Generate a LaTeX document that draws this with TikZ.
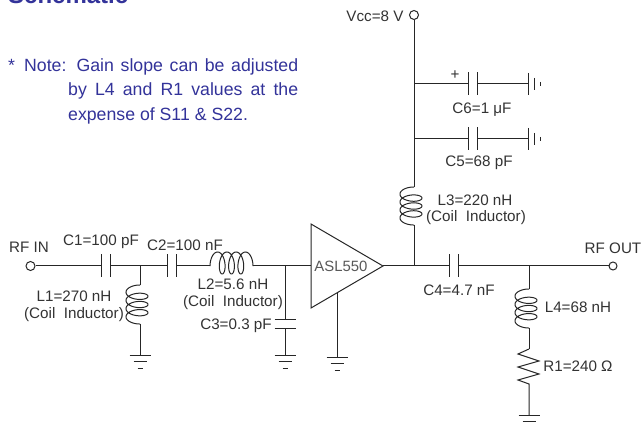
\documentclass[tikz,border=0pt]{standalone}
\usepackage{fontspec}
\setmainfont{Liberation Sans}
\definecolor{notecol}{HTML}{33339A}
\definecolor{wirecol}{HTML}{262626}
\definecolor{labcol}{HTML}{333333}
\newcommand{\coilAlong}[1]{(#1-9.6)*((\x-74)/1292)-5*(sin(\x)-sin(74))}
\newcommand{\coilAcross}{-3+11*cos(\x)}
\tikzset{
  wire/.style={draw=wirecol,line width=1pt},
  lab/.style={inner sep=0pt,text=labcol,font=\fontsize{15.2}{17}\selectfont},
  note/.style={inner sep=0pt,anchor=base west,text=notecol,font=\fontsize{17.7}{20}\selectfont},
  term/.style={circle,draw=wirecol,line width=1pt,fill=white,inner sep=0pt,minimum size=9pt},
  pt/.style={inner sep=0pt,minimum size=0pt},
  coilplot/.style={domain=74:1366,samples=220,smooth},
  gnddown/.pic={\draw[wire] (-10.5,0)--(10.5,0) (-6.5,6)--(6.5,6) (-2.5,12.5)--(2.5,12.5);},
  gndright/.pic={\draw[wire] (0,-11)--(0,11) (6,-6)--(6,6) (12,-2)--(12,2);},
  capv/.pic={\draw[wire] (-4.5,-11.5)--(-4.5,11.5) (4.5,-11.5)--(4.5,11.5);},
  caph/.pic={\draw[wire] (-10.5,-4.5)--(10.5,-4.5) (-10.5,4.5)--(10.5,4.5);}
}
\begin{document}
\begin{tikzpicture}[x=1pt,y=-1pt]
\useasboundingbox[fill=white] (0,0) rectangle (641,425);
% text
\node[inner sep=0pt,anchor=base west,text=notecol,font=\bfseries\fontsize{24}{26}\selectfont] (title) at (8,4) {Schematic};
\node[note] (star) at (8,72) {*};
\node[note] (n1) at (24,72) {\makebox[274pt][s]{Note: Gain slope can be adjusted}};
\node[note] (n2) at (68,96) {\makebox[230pt][s]{by L4 and R1 values at the}};
\node[note] (n3) at (68,121) {expense of S11 \& S22.};
% terminals and junctions
\node[term] (in) at (30.5,266) {};
\node[term,minimum size=8pt] (out) at (613,266) {};
\node[term] (vcc) at (414,15) {};
\node[pt] (j1) at (140,266) {};
\node[pt] (j2) at (285,266) {};
\node[pt] (j3) at (414,266) {};
\node[pt] (j4) at (529,266) {};
\node[pt] (j6) at (414,84) {};
\node[pt] (j5) at (414,139) {};
% amplifier
\node[pt] (ta) at (311,224) {};
\node[pt] (tb) at (311,308) {};
\node[pt] (tc) at (383,266) {};
\draw[wire,line join=miter] (ta.center)--(tc.center)--(tb.center)--cycle;
\node[lab,text=black!65,font=\fontsize{14.9}{16}\selectfont] (amp) at (341,266) {ASL550};
\node[pt] (tg) at (337,293) {};
% series chain
\node[pt] (c1l) at (101,266) {}; \node[pt] (c1r) at (110,266) {};
\node[pt] (c2l) at (167,266) {}; \node[pt] (c2r) at (176,266) {};
\node[pt] (l2l) at (210,266) {}; \node[pt] (l2r) at (253,266) {};
\node[pt] (c4l) at (449,266) {}; \node[pt] (c4r) at (458,266) {};
\draw[wire] (in)--(c1l.center) (c1r.center)--(c2l.center) (c2r.center)--(l2l.center) (l2r.center)--(311,266);
\draw[wire] (tc.center)--(c4l.center) (c4r.center)--(out);
\pic at (105.5,266) {capv};
\pic at (171.5,266) {capv};
\pic at (453.5,266) {capv};
\draw[wire,shift={(l2l.center)}] plot[coilplot] ({\coilAlong{43}},{\coilAcross});
% L1 shunt
\node[pt] (l1t) at (140,285) {}; \node[pt] (l1b) at (140,324) {}; \node[pt] (g1) at (140,356) {};
\draw[wire] (j1.center)--(l1t.center) (l1b.center)--(g1.center);
\draw[wire,shift={(l1t.center)}] plot[coilplot] ({\coilAcross},{\coilAlong{39}});
\pic at (140,356) {gnddown};
% C3 shunt
\node[pt] (c3t) at (285,320) {}; \node[pt] (c3b) at (285,329) {}; \node[pt] (g3) at (285,356) {};
\draw[wire] (j2.center)--(c3t.center) (c3b.center)--(g3.center);
\pic at (285,324.5) {caph};
\pic at (285,356) {gnddown};
% amp ground
\node[pt] (g2) at (337,358) {};
\draw[wire] (tg.center)--(g2.center);
\pic at (337,358) {gnddown};
% L3 & supply
\node[pt] (l3t) at (414,187) {}; \node[pt] (l3b) at (414,225) {};
\draw[wire] (vcc)--(l3t.center) (l3b.center)--(j3.center);
\draw[wire,shift={(l3t.center)}] plot[coilplot] ({\coilAcross},{\coilAlong{38}});
% C6
\node[pt] (c6l) at (468,84) {}; \node[pt] (c6r) at (477,84) {}; \node[pt] (g6) at (528,84) {};
\draw[wire] (j6.center)--(c6l.center) (c6r.center)--(g6.center);
\pic at (472.5,84) {capv};
\pic at (528,84) {gndright};
% C5
\node[pt] (c5l) at (468,139) {}; \node[pt] (c5r) at (477,139) {}; \node[pt] (g5) at (528,139) {};
\draw[wire] (j5.center)--(c5l.center) (c5r.center)--(g5.center);
\pic at (472.5,139) {capv};
\pic at (528,139) {gndright};
% L4, R1
\node[pt] (l4t) at (529,289) {}; \node[pt] (l4b) at (529,328) {};
\node[pt] (r1t) at (529,349) {}; \node[pt] (r1b) at (529,384) {}; \node[pt] (g4) at (529,415) {};
\draw[wire] (j4.center)--(l4t.center) (l4b.center)--(r1t.center);
\draw[wire,shift={(l4t.center)}] plot[coilplot] ({\coilAcross},{\coilAlong{39}});
\draw[wire,line join=miter] (r1t.center)--(518,354)--(539,361)--(518,367)--(539,374)--(518,380)--(r1b.center)--(g4.center);
\pic at (529,415) {gnddown};
% labels
\node[lab] (lin) at (29,247) {RF IN};
\node[lab] (lc1) at (101,242) {C1=100 pF};
\node[lab] (lc2) at (185,245) {C2=100 nF};
\node[lab] (ll2) at (233,284) {L2=5.6 nH};
\node[lab] (ll2b) at (233,303) {(Coil\ \ Inductor)};
\node[lab] (lc3) at (236,326) {C3=0.3 pF};
\node[lab] (ll1) at (74,296) {L1=270 nH};
\node[lab] (ll1b) at (74,315) {(Coil\ \ Inductor)};
\node[lab] (lc4) at (459,290) {C4=4.7 nF};
\node[lab] (ll4) at (578,307) {L4=68 nH};
\node[lab] (lr1) at (578,366) {R1=240 Ω};
\node[lab] (lout) at (613,248) {RF OUT};
\node[lab] (lvcc) at (375,16) {Vcc=8 V};
\node[lab] (lplus) at (455,75) {+};
\node[lab] (lc6) at (482,110) {C6=1 μF};
\node[lab] (lc5) at (479,163) {C5=68 pF};
\node[lab] (ll3) at (475,200) {L3=220 nH};
\node[lab] (ll3b) at (476,218) {(Coil\ \ Inductor)};
\end{tikzpicture}
\end{document}
